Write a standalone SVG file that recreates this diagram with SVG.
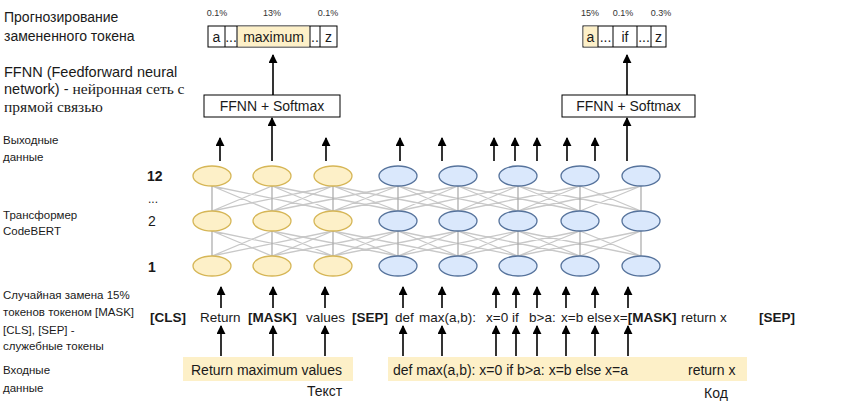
<svg xmlns="http://www.w3.org/2000/svg" width="861" height="405" viewBox="0 0 861 405">
<defs>
<marker id="ah" viewBox="0 0 10 10" refX="9" refY="5" markerWidth="9" markerHeight="9" markerUnits="userSpaceOnUse" orient="auto">
<path d="M0,0 L10,5 L0,10 Z" fill="#000"/>
</marker>
<style>
text{font-family:"Liberation Sans",Arial,sans-serif;fill:#1a1a1a}
.lbl{font-size:14px}
.sm{font-size:11.5px}
.pct{font-size:9px;fill:#333}
.tok{font-size:14px}
.seq{font-size:13.5px}
.b{font-weight:bold}
.serif{font-family:"Liberation Serif","Times New Roman",serif}
.y{fill:#fdf0c8;stroke:#d6b656;stroke-width:1.3}
.bl{fill:#dae8fc;stroke:#56739c;stroke-width:1.3}
.box{fill:#fff;stroke:#000;stroke-width:1}
.hl{fill:#fdf0c8;stroke:none}
.arr{stroke:#000;stroke-width:1.6;fill:none;marker-end:url(#ah)}
.ln{stroke:#c8c8c8;stroke-width:1.3;fill:none}
.vl{stroke:#a8a8a8;stroke-width:1.2;fill:none}
</style>
</defs>
<rect width="861" height="405" fill="#fff"/>

<!-- left labels -->
<g id="labels">
<text class="lbl" x="4" y="22">Прогнозирование</text>
<text class="lbl" x="4" y="41">замененного токена</text>
<text x="4" y="77" style="font-size:14.5px">FFNN (Feedforward neural</text>
<text x="4" y="94" style="font-size:14.5px">network) - <tspan class="serif" style="font-size:15.5px">нейронная сеть с</tspan></text>
<text class="serif" x="4" y="112" style="font-size:15.5px">прямой связью</text>
<text class="sm" x="3" y="144">Выходные</text>
<text class="sm" x="3" y="161">данные</text>
<text class="sm" x="3" y="219">Трансформер</text>
<text class="sm" x="3" y="235">CodeBERT</text>
<text class="sm" x="3" y="299">Случайная замена 15%</text>
<text class="sm" x="3" y="316">токенов токеном [MASK]</text>
<text class="sm" x="3" y="334">[CLS], [SEP] -</text>
<text class="sm" x="3" y="350">служебные токены</text>
<text class="sm" x="3" y="374">Входные</text>
<text class="sm" x="3" y="392">данные</text>
<text class="b" x="147" y="181" style="font-size:14px">12</text>
<text x="148" y="203" style="font-size:12px">...</text>
<text x="148" y="226" style="font-size:14px">2</text>
<text class="b" x="148" y="272" style="font-size:14px">1</text>
</g>

<!-- left output -->
<g id="out-left">
<text class="pct" x="217" y="16" text-anchor="middle">0.1%</text>
<text class="pct" x="272" y="16" text-anchor="middle">13%</text>
<text class="pct" x="328" y="16" text-anchor="middle">0.1%</text>
<rect class="box" x="208" y="26" width="129" height="21"/>
<rect class="hl" x="237.5" y="26.5" width="72" height="20"/>
<path d="M225,26 V47 M237,26 V47 M310,26 V47 M320,26 V47" stroke="#000" stroke-width="1"/>
<text class="tok" x="216.5" y="42" text-anchor="middle">a</text>
<text class="tok" x="231" y="42" text-anchor="middle">...</text>
<text class="tok" x="273.5" y="42" text-anchor="middle">maximum</text>
<text class="tok" x="315" y="42" text-anchor="middle">..</text>
<text class="tok" x="328.5" y="42" text-anchor="middle">z</text>
</g>
<g id="ffnn-left">
<rect class="box" x="204" y="95" width="136" height="22"/>
<text class="tok" x="272" y="111" text-anchor="middle">FFNN + Softmax</text>
</g>

<!-- right output -->
<g id="out-right">
<text class="pct" x="590" y="16" text-anchor="middle">15%</text>
<text class="pct" x="623" y="16" text-anchor="middle">0.1%</text>
<text class="pct" x="661" y="16" text-anchor="middle">0.3%</text>
<rect class="box" x="583" y="26" width="83" height="21"/>
<rect class="hl" x="583.5" y="26.5" width="14.5" height="20"/>
<path d="M598,26 V47 M613,26 V47 M637,26 V47 M651,26 V47" stroke="#000" stroke-width="1"/>
<text class="tok" x="590.5" y="42" text-anchor="middle">a</text>
<text class="tok" x="605.5" y="42" text-anchor="middle">...</text>
<text class="tok" x="625" y="42" text-anchor="middle">if</text>
<text class="tok" x="644" y="42" text-anchor="middle">...</text>
<text class="tok" x="658.5" y="42" text-anchor="middle">z</text>
</g>
<g id="ffnn-right">
<rect class="box" x="562" y="95" width="133" height="22"/>
<text class="tok" x="628.5" y="111" text-anchor="middle">FFNN + Softmax</text>
</g>

<!-- connectors -->
<g id="connectors">
<g id="layer-links">
<path class="ln" d="M212,186 L333,211 M212,186 L272,211 M272,186 L212,211 M272,186 L333,211 M272,186 L398,211 M333,186 L212,211 M333,186 L272,211 M333,186 L398,211 M333,186 L458,211 M398,186 L272,211 M398,186 L333,211 M398,186 L458,211 M398,186 L518,211 M458,186 L333,211 M458,186 L398,211 M458,186 L518,211 M458,186 L580,211 M518,186 L398,211 M518,186 L458,211 M518,186 L580,211 M518,186 L641,211 M580,186 L458,211 M580,186 L518,211 M580,186 L641,211 M641,186 L518,211 M641,186 L580,211"/>
<path class="ln" d="M212,231 L333,256 M212,231 L272,256 M272,231 L212,256 M272,231 L333,256 M272,231 L398,256 M333,231 L212,256 M333,231 L272,256 M333,231 L398,256 M333,231 L458,256 M398,231 L272,256 M398,231 L333,256 M398,231 L458,256 M398,231 L518,256 M458,231 L333,256 M458,231 L398,256 M458,231 L518,256 M458,231 L580,256 M518,231 L398,256 M518,231 L458,256 M518,231 L580,256 M518,231 L641,256 M580,231 L458,256 M580,231 L518,256 M580,231 L641,256 M641,231 L518,256 M641,231 L580,256"/>
<path class="vl" d="M212,186 V211 M272,186 V211 M333,186 V211 M398,186 V211 M458,186 V211 M518,186 V211 M580,186 V211 M641,186 V211 M212,231 V256 M272,231 V256 M333,231 V256 M398,231 V256 M458,231 V256 M518,231 V256 M580,231 V256 M641,231 V256"/>
</g>
<g id="out-arrows">
<line class="arr" x1="220" y1="161" x2="220" y2="138"/>
<line class="arr" x1="272" y1="161" x2="272" y2="118"/>
<line class="arr" x1="326" y1="161" x2="326" y2="138"/>
<line class="arr" x1="400" y1="161" x2="400" y2="138"/>
<line class="arr" x1="442" y1="161" x2="442" y2="138"/>
<line class="arr" x1="494" y1="161" x2="494" y2="138"/>
<line class="arr" x1="515" y1="161" x2="515" y2="138"/>
<line class="arr" x1="537" y1="161" x2="537" y2="138"/>
<line class="arr" x1="567" y1="161" x2="567" y2="138"/>
<line class="arr" x1="595" y1="161" x2="595" y2="138"/>
<line class="arr" x1="627" y1="161" x2="627" y2="118"/>
<line class="arr" x1="273" y1="95" x2="273" y2="55"/>
<line class="arr" x1="627" y1="95" x2="627" y2="55"/>
</g>
<g id="in-arrows">
<line class="arr" x1="221" y1="308" x2="221" y2="287"/>
<line class="arr" x1="273" y1="308" x2="273" y2="287"/>
<line class="arr" x1="325" y1="308" x2="325" y2="287"/>
<line class="arr" x1="403" y1="308" x2="403" y2="287"/>
<line class="arr" x1="442" y1="308" x2="442" y2="287"/>
<line class="arr" x1="496" y1="308" x2="496" y2="287"/>
<line class="arr" x1="516" y1="308" x2="516" y2="287"/>
<line class="arr" x1="537" y1="308" x2="537" y2="287"/>
<line class="arr" x1="566" y1="308" x2="566" y2="287"/>
<line class="arr" x1="595" y1="308" x2="595" y2="287"/>
<line class="arr" x1="628" y1="308" x2="628" y2="287"/>
<line class="arr" x1="221" y1="356" x2="221" y2="326"/>
<line class="arr" x1="273" y1="356" x2="273" y2="326"/>
<line class="arr" x1="325" y1="356" x2="325" y2="326"/>
<line class="arr" x1="403" y1="356" x2="403" y2="326"/>
<line class="arr" x1="442" y1="356" x2="442" y2="326"/>
<line class="arr" x1="496" y1="356" x2="496" y2="326"/>
<line class="arr" x1="516" y1="356" x2="516" y2="326"/>
<line class="arr" x1="537" y1="356" x2="537" y2="326"/>
<line class="arr" x1="566" y1="356" x2="566" y2="326"/>
<line class="arr" x1="595" y1="356" x2="595" y2="326"/>
<line class="arr" x1="628" y1="356" x2="628" y2="326"/>
</g>
</g>

<!-- nodes -->
<g id="n12-1"><ellipse class="y" cx="212" cy="176" rx="19" ry="10"/></g>
<g id="n12-2"><ellipse class="y" cx="272" cy="176" rx="19" ry="10"/></g>
<g id="n12-3"><ellipse class="y" cx="333" cy="176" rx="19" ry="10"/></g>
<g id="n12-4"><ellipse class="bl" cx="398" cy="176" rx="19" ry="10"/></g>
<g id="n12-5"><ellipse class="bl" cx="458" cy="176" rx="19" ry="10"/></g>
<g id="n12-6"><ellipse class="bl" cx="518" cy="176" rx="19" ry="10"/></g>
<g id="n12-7"><ellipse class="bl" cx="580" cy="176" rx="19" ry="10"/></g>
<g id="n12-8"><ellipse class="bl" cx="641" cy="176" rx="19" ry="10"/></g>
<g id="n2-1"><ellipse class="y" cx="212" cy="221" rx="19" ry="10"/></g>
<g id="n2-2"><ellipse class="y" cx="272" cy="221" rx="19" ry="10"/></g>
<g id="n2-3"><ellipse class="y" cx="333" cy="221" rx="19" ry="10"/></g>
<g id="n2-4"><ellipse class="bl" cx="398" cy="221" rx="19" ry="10"/></g>
<g id="n2-5"><ellipse class="bl" cx="458" cy="221" rx="19" ry="10"/></g>
<g id="n2-6"><ellipse class="bl" cx="518" cy="221" rx="19" ry="10"/></g>
<g id="n2-7"><ellipse class="bl" cx="580" cy="221" rx="19" ry="10"/></g>
<g id="n2-8"><ellipse class="bl" cx="641" cy="221" rx="19" ry="10"/></g>
<g id="n1-1"><ellipse class="y" cx="212" cy="266" rx="19" ry="10"/></g>
<g id="n1-2"><ellipse class="y" cx="272" cy="266" rx="19" ry="10"/></g>
<g id="n1-3"><ellipse class="y" cx="333" cy="266" rx="19" ry="10"/></g>
<g id="n1-4"><ellipse class="bl" cx="398" cy="266" rx="19" ry="10"/></g>
<g id="n1-5"><ellipse class="bl" cx="458" cy="266" rx="19" ry="10"/></g>
<g id="n1-6"><ellipse class="bl" cx="518" cy="266" rx="19" ry="10"/></g>
<g id="n1-7"><ellipse class="bl" cx="580" cy="266" rx="19" ry="10"/></g>
<g id="n1-8"><ellipse class="bl" cx="641" cy="266" rx="19" ry="10"/></g>

<!-- masked token sequence -->
<g id="tokens">
<text class="seq b" x="150" y="322">[CLS]</text>
<text class="seq" x="200" y="322">Return</text>
<text class="seq b" x="248" y="322">[MASK]</text>
<text class="seq" x="306" y="322">values</text>
<text class="seq b" x="352" y="322">[SEP]</text>
<text class="seq" x="395" y="322">def</text>
<text class="seq" x="419" y="322">max(a,b):</text>
<text class="seq" x="486" y="322">x=0</text>
<text class="seq" x="512" y="322">if</text>
<text class="seq" x="529" y="322">b&gt;a:</text>
<text class="seq" x="561" y="322">x=b</text>
<text class="seq" x="587" y="322">else</text>
<text class="seq" x="613" y="322">x=<tspan class="b">[MASK]</tspan></text>
<text class="seq" x="681" y="322">return x</text>
<text class="seq b" x="759" y="322">[SEP]</text>
</g>

<!-- inputs -->
<g id="input-text">
<rect class="hl" x="183" y="357" width="170" height="24"/>
<text class="tok" x="191" y="375">Return maximum values</text>
<text class="tok" x="307" y="396">Текст</text>
</g>
<g id="input-code">
<rect class="hl" x="388" y="357" width="359" height="24"/>
<text class="tok" x="393" y="375">def max(a,b): x=0 if b&gt;a: x=b else x=a</text>
<text class="tok" x="688" y="375">return x</text>
<text class="tok" x="704" y="398">Код</text>
</g>
</svg>
